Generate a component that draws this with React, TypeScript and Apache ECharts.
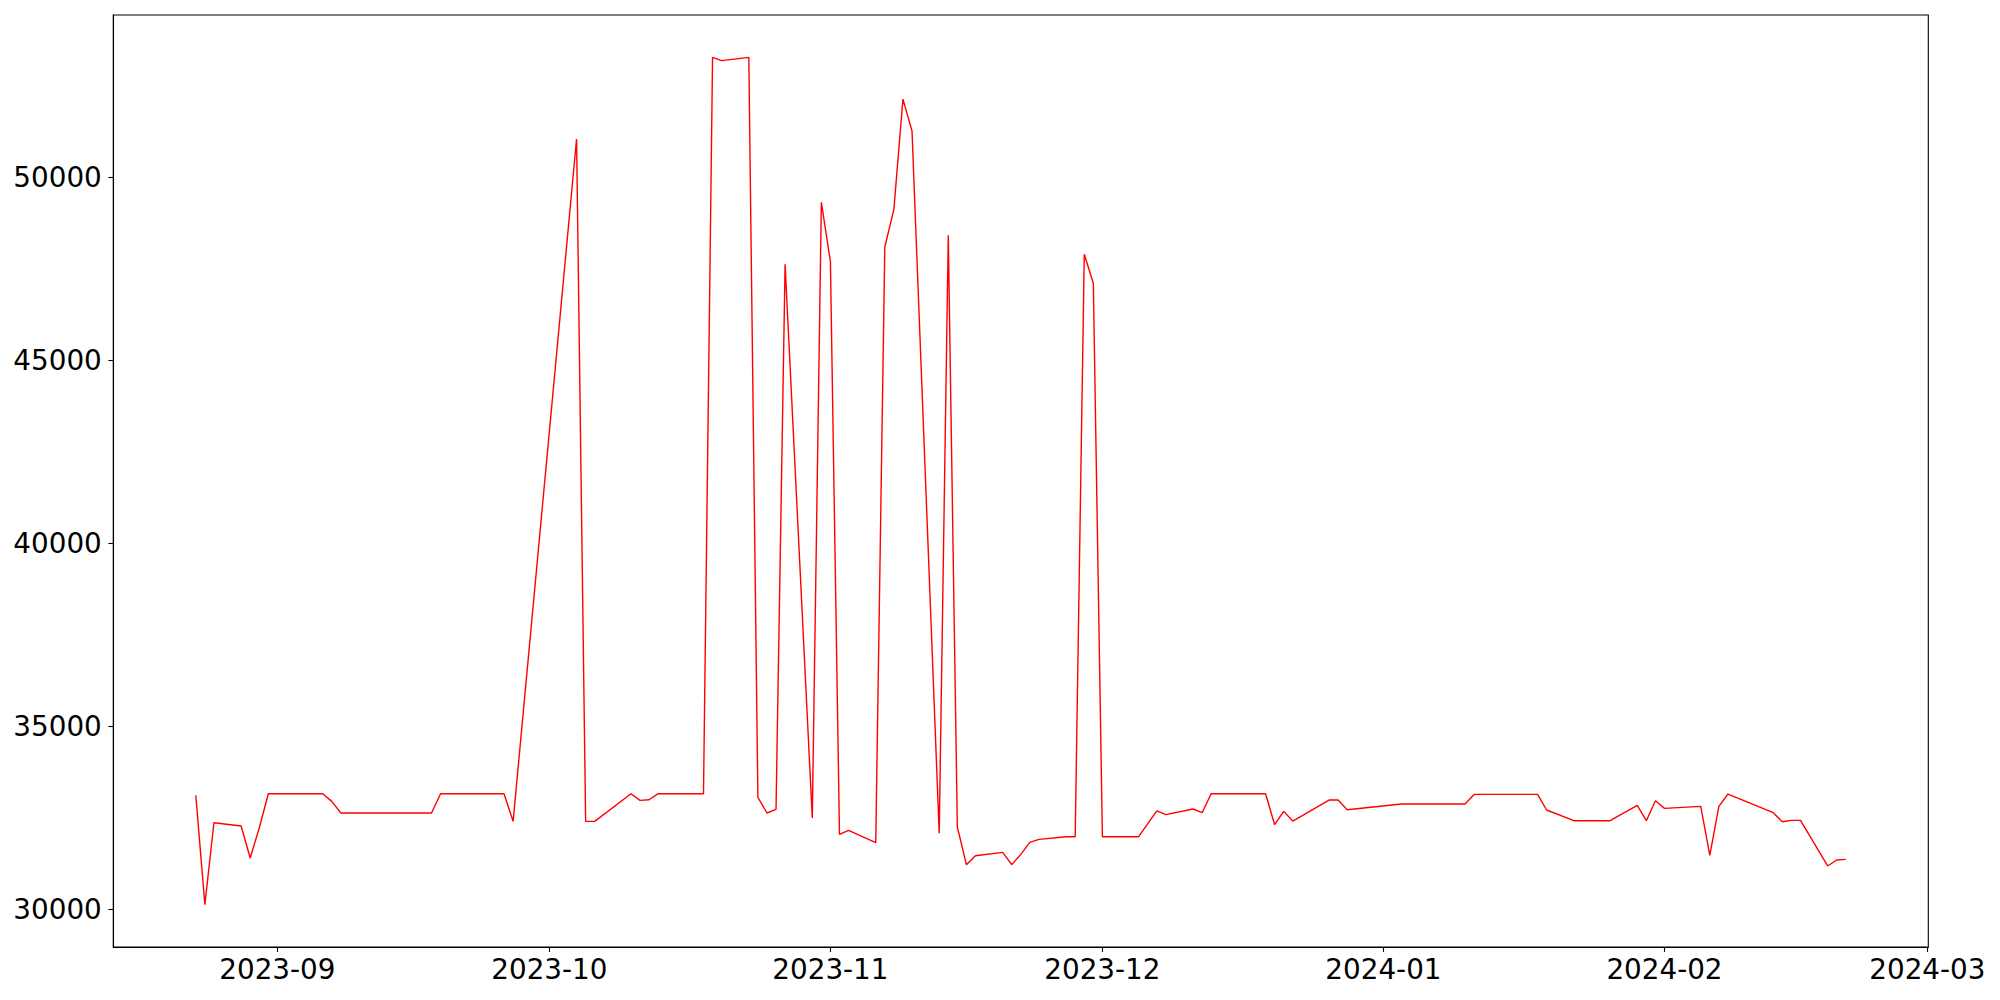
import React, { useEffect, useRef } from "react";
import * as echarts from "echarts";

const dates: string[] = [
  "2023-08-23", "2023-08-24", "2023-08-25", "2023-08-28", "2023-08-29", "2023-08-30", "2023-08-31",
  "2023-09-01", "2023-09-04", "2023-09-05", "2023-09-06", "2023-09-07", "2023-09-08",
  "2023-09-11", "2023-09-12", "2023-09-13", "2023-09-14", "2023-09-15", "2023-09-18",
  "2023-09-19", "2023-09-20", "2023-09-21", "2023-09-22", "2023-09-25", "2023-09-26", "2023-09-27",
  "2023-10-04", "2023-10-05", "2023-10-06", "2023-10-10", "2023-10-11", "2023-10-12", "2023-10-13",
  "2023-10-16", "2023-10-17", "2023-10-18", "2023-10-19", "2023-10-20", "2023-10-23", "2023-10-24",
  "2023-10-25", "2023-10-26", "2023-10-27", "2023-10-30", "2023-10-31",
  "2023-11-01", "2023-11-02", "2023-11-03", "2023-11-06", "2023-11-07", "2023-11-08", "2023-11-09",
  "2023-11-10", "2023-11-13", "2023-11-14", "2023-11-15", "2023-11-16", "2023-11-17", "2023-11-20",
  "2023-11-21", "2023-11-22", "2023-11-23", "2023-11-24", "2023-11-27", "2023-11-28", "2023-11-29",
  "2023-11-30",
  "2023-12-01", "2023-12-04", "2023-12-05", "2023-12-07", "2023-12-08", "2023-12-11", "2023-12-12",
  "2023-12-13", "2023-12-14", "2023-12-15", "2023-12-18", "2023-12-19", "2023-12-20", "2023-12-21",
  "2023-12-22", "2023-12-26", "2023-12-27", "2023-12-28",
  "2024-01-03", "2024-01-04", "2024-01-05", "2024-01-08", "2024-01-09", "2024-01-10", "2024-01-11",
  "2024-01-12", "2024-01-16", "2024-01-17", "2024-01-18", "2024-01-19", "2024-01-22", "2024-01-23",
  "2024-01-24", "2024-01-25", "2024-01-26", "2024-01-29", "2024-01-30", "2024-01-31",
  "2024-02-01", "2024-02-05", "2024-02-06", "2024-02-07", "2024-02-08", "2024-02-13", "2024-02-14",
  "2024-02-15", "2024-02-16", "2024-02-19", "2024-02-20", "2024-02-21",
];

const values: number[] = [
  33120, 30137, 32375, 32285, 31411, 32230, 33167,
  33167, 33167, 33167, 33167, 32957, 32640,
  32640, 32640, 32640, 32640, 32640, 32640,
  33167, 33167, 33167, 33167, 33167, 33167, 32411,
  51050, 32411, 32411, 33167, 32984, 33003, 33167,
  33167, 33167, 33167, 53280, 53190, 53280, 33066,
  32640, 32738, 47630, 32503, 49320,
  47698, 32056, 32165, 31829, 48100, 49129, 52140,
  51267, 32085, 48418, 32258, 31229, 31474, 31565,
  31229, 31510, 31838, 31920, 31993, 31993, 47901,
  47109,
  31993, 31993, 31993, 32700, 32594, 32749, 32648,
  33167, 33167, 33167, 33167, 33167, 32320, 32684,
  32420, 32994, 32994, 32730,
  32885, 32885, 32885, 32885, 32885, 32885, 33148,
  33148, 33148, 33148, 33148, 32722, 32430, 32430,
  32430, 32430, 32430, 32848, 32430, 32976,
  32766, 32821, 31483, 32821, 33158, 32648, 32402,
  32438, 32438, 31193, 31357, 31374,
];

const yTickValues: number[] = [30000, 35000, 40000, 45000, 50000];
const xTickDates: string[] = [
  "2023-09-01", "2023-10-01", "2023-11-01", "2023-12-01",
  "2024-01-01", "2024-02-01", "2024-03-01",
];

function toTime(s: string): number {
  const [y, m, d] = s.split("-").map(Number);
  return new Date(y, m - 1, d).getTime();
}

function fmtMonth(v: number): string {
  const d = new Date(v);
  return `${d.getFullYear()}-${String(d.getMonth() + 1).padStart(2, "0")}`;
}

export default function App() {
  const ref = useRef<HTMLDivElement>(null);

  useEffect(() => {
    if (!ref.current) return;
    const chart = echarts.init(ref.current, null, { renderer: "svg" });
    const times = dates.map(toTime);
    const tMin = Math.min(...times);
    const tMax = Math.max(...times);
    const tPad = (tMax - tMin) * 0.05;
    const vMin = Math.min(...values);
    const vMax = Math.max(...values);
    const vPad = (vMax - vMin) * 0.05;
    const font = { fontFamily: "DejaVu Sans", fontSize: 27.8, color: "#000" };
    const axisLineStyle = { color: "#000", width: 1.1 };
    const xTicks = xTickDates.map(toTime);

    chart.setOption({
      animation: false,
      grid: {
        left: 113.3,
        right: 71.7,
        top: 15,
        bottom: 53,
        show: true,
        borderColor: "#000",
        borderWidth: 1.1,
        containLabel: false,
        outerBoundsMode: "none",
      },
      xAxis: {
        type: "value",
        min: tMin - tPad,
        max: tMax + tPad,
        scale: true,
        splitLine: { show: false },
        axisLine: { show: true, onZero: false, lineStyle: axisLineStyle },
        axisTick: {
          show: true,
          inside: false,
          length: 4.9,
          lineStyle: axisLineStyle,
          customValues: xTicks,
        },
        axisLabel: {
          ...font,
          margin: 8,
          customValues: xTicks,
          formatter: (v: number) => fmtMonth(v),
        },
      },
      yAxis: {
        type: "value",
        min: vMin - vPad,
        max: vMax + vPad,
        scale: true,
        splitLine: { show: false },
        axisLine: { show: true, onZero: false, lineStyle: axisLineStyle },
        axisTick: {
          show: true,
          inside: false,
          length: 4.9,
          lineStyle: axisLineStyle,
          customValues: yTickValues,
        },
        axisLabel: {
          ...font,
          margin: 11.5,
          customValues: yTickValues,
          formatter: (v: number) => String(v),
        },
      },
      series: [
        {
          type: "line",
          data: times.map((t, i) => [t, values[i]]),
          showSymbol: false,
          symbol: "none",
          smooth: false,
          lineStyle: { color: "#ff0000", width: 1.4 },
          itemStyle: { color: "#ff0000" },
        },
      ],
    });

    return () => {
      chart.dispose();
    };
  }, []);

  return (
    <div
      ref={ref}
      style={{
        position: "fixed",
        left: 0,
        top: 0,
        width: "2000px",
        height: "1000px",
        background: "#fff",
      }}
    />
  );
}
